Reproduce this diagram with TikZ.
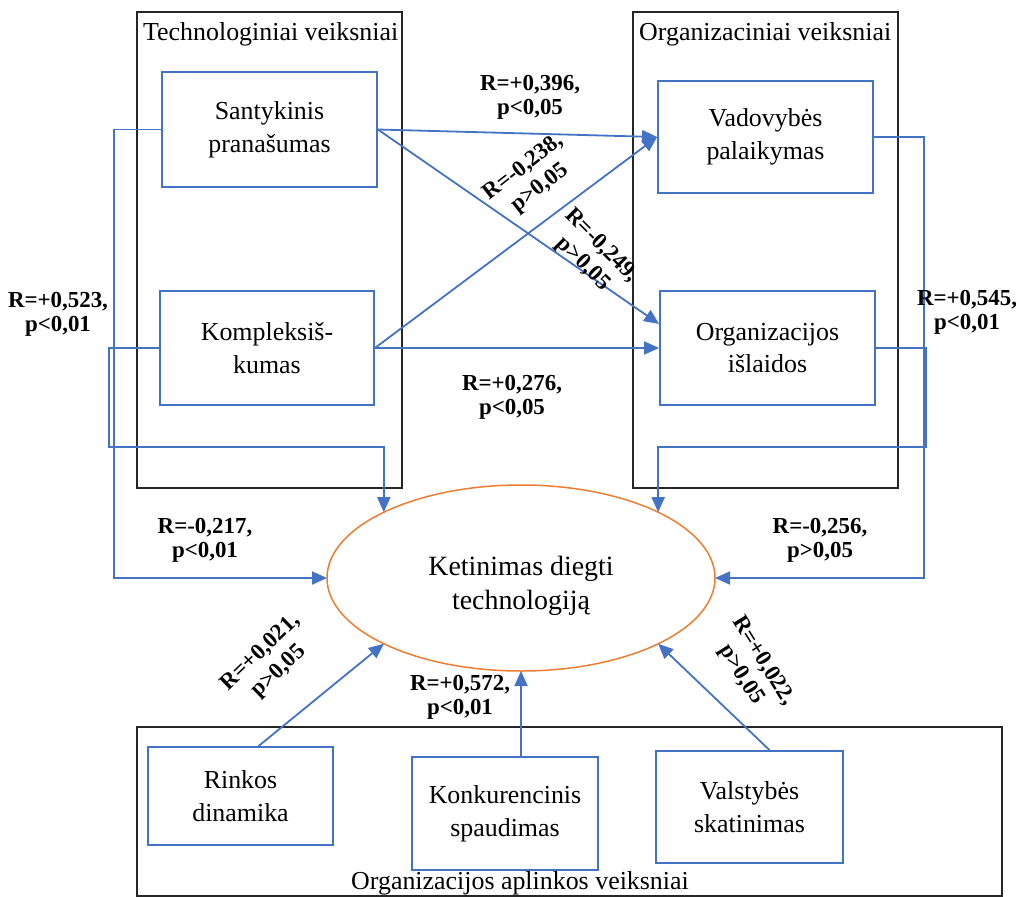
\documentclass[tikz,border=0pt]{standalone}
\usepackage{fontspec}
\setmainfont{Liberation Serif}
\usetikzlibrary{shapes.geometric,arrows.meta}
\definecolor{lineblue}{RGB}{68,114,196}
\definecolor{ovalorange}{RGB}{237,125,49}
\begin{document}
\begin{tikzpicture}[x=1bp,y=-1bp,
  group/.style={draw=black!85,line width=1.8bp},
  factor/.style={draw=lineblue,line width=1.8bp,align=center,inner sep=0pt,
    font=\fontsize{26}{33}\selectfont},
  conn/.style={draw=lineblue,line width=1.8bp,-{Triangle[length=15bp,width=13bp]}},
  stat/.style={align=center,inner sep=0pt,font=\bfseries\fontsize{23}{24}\selectfont},
  tiltstat/.style={stat,font=\bfseries\fontsize{23}{26}\selectfont},
  grouptitle/.style={inner sep=0pt,font=\fontsize{26}{28}\selectfont}]
\useasboundingbox (0,0) rectangle (1026,897);

% factor groups
\draw[group] (137,12) rectangle (402,488);
\draw[group] (633,12) rectangle (898,488);
\draw[group] (137,727) rectangle (1002,896);
\node[grouptitle,anchor=base west] (ttech) at (143,40) {Technologiniai veiksniai};
\node[grouptitle,anchor=base west] (torg) at (639,40) {Organizaciniai veiksniai};
\node[grouptitle,anchor=base] (tenv) at (520,889) {Organizacijos aplinkos veiksniai};

% factors
\node[factor,minimum width=215bp,minimum height=115bp] (sant) at (269.5,129.5) {Santykinis\\pranašumas};
\node[factor,minimum width=214bp,minimum height=114bp] (komp) at (267,348) {Kompleksiš-\\kumas};
\node[factor,minimum width=215bp,minimum height=112bp] (vad) at (765.5,137) {Vadovybės\\palaikymas};
\node[factor,minimum width=215bp,minimum height=114bp] (org) at (767.5,348) {Organizacijos\\išlaidos};
\node[factor,minimum width=185bp,minimum height=98bp] (rink) at (240.5,796) {Rinkos\\dinamika};
\node[factor,minimum width=186bp,minimum height=113bp] (konk) at (505,813.5) {Konkurencinis\\spaudimas};
\node[factor,minimum width=187bp,minimum height=112bp] (vals) at (749.5,807) {Valstybės\\skatinimas};

% intention
\node[ellipse,draw=ovalorange,line width=1.5bp,minimum width=388bp,minimum height=186bp,
  inner sep=0pt,outer sep=0pt] (goal) at (521,578) {};
\node[align=center,inner sep=0pt,font=\fontsize{28}{34}\selectfont]
  (goaltext) at (521,586) {Ketinimas diegti\\technologiją};

% links between factors
\draw[conn] (sant.east) -- (vad.west);
\draw[conn] (sant.east) -- ([yshift=24bp]org.west);
\draw[conn] (komp.east) -- (vad.west);
\draw[conn] (komp.east) -- (org.west);

% links to the intention
\draw[conn] (sant.west) -- ++(-47,0) |- (goal.west);
\draw[conn] (komp.west) -- ++(-50,0) -- ++(0,99) -| (goal.north west);
\draw[conn] (vad.east) -- ++(50,0) |- (goal.east);
\draw[conn] (org.east) -- ++(50,0) -- ++(0,99) -| (goal.north east);
\draw[conn] ([xshift=18bp]rink.north) -- (goal.south west);
\draw[conn] (konk.north -| goal.south) -- (goal.south);
\draw[conn] ([xshift=20bp]vals.north) -- (goal.south east);

% correlations
\node[stat] (s1) at (530,97) {R=+0,396,\\p<0,05};
\node[tiltstat,rotate=38] (s2) at (532,178) {R=-0,238,\\p>0,05};
\node[tiltstat,rotate=-45] (s3) at (592,255) {R=-0,249,\\p>0,05};
\node[stat] (s4) at (512,397) {R=+0,276,\\p<0,05};
\node[stat] (s5) at (58,314) {R=+0,523,\\p<0,01};
\node[stat] (s6) at (967,312) {R=+0,545,\\p<0,01};
\node[stat] (s7) at (205,540) {R=-0,217,\\p<0,01};
\node[stat] (s8) at (820,540) {R=-0,256,\\p>0,05};
\node[tiltstat,rotate=44] (s9) at (270,662) {R=+0,021,\\p>0,05};
\node[stat] (s10) at (460,697) {R=+0,572,\\p<0,01};
\node[tiltstat,rotate=-58] (s11) at (752,668) {R=+0,022,\\p>0,05};
\end{tikzpicture}
\end{document}
